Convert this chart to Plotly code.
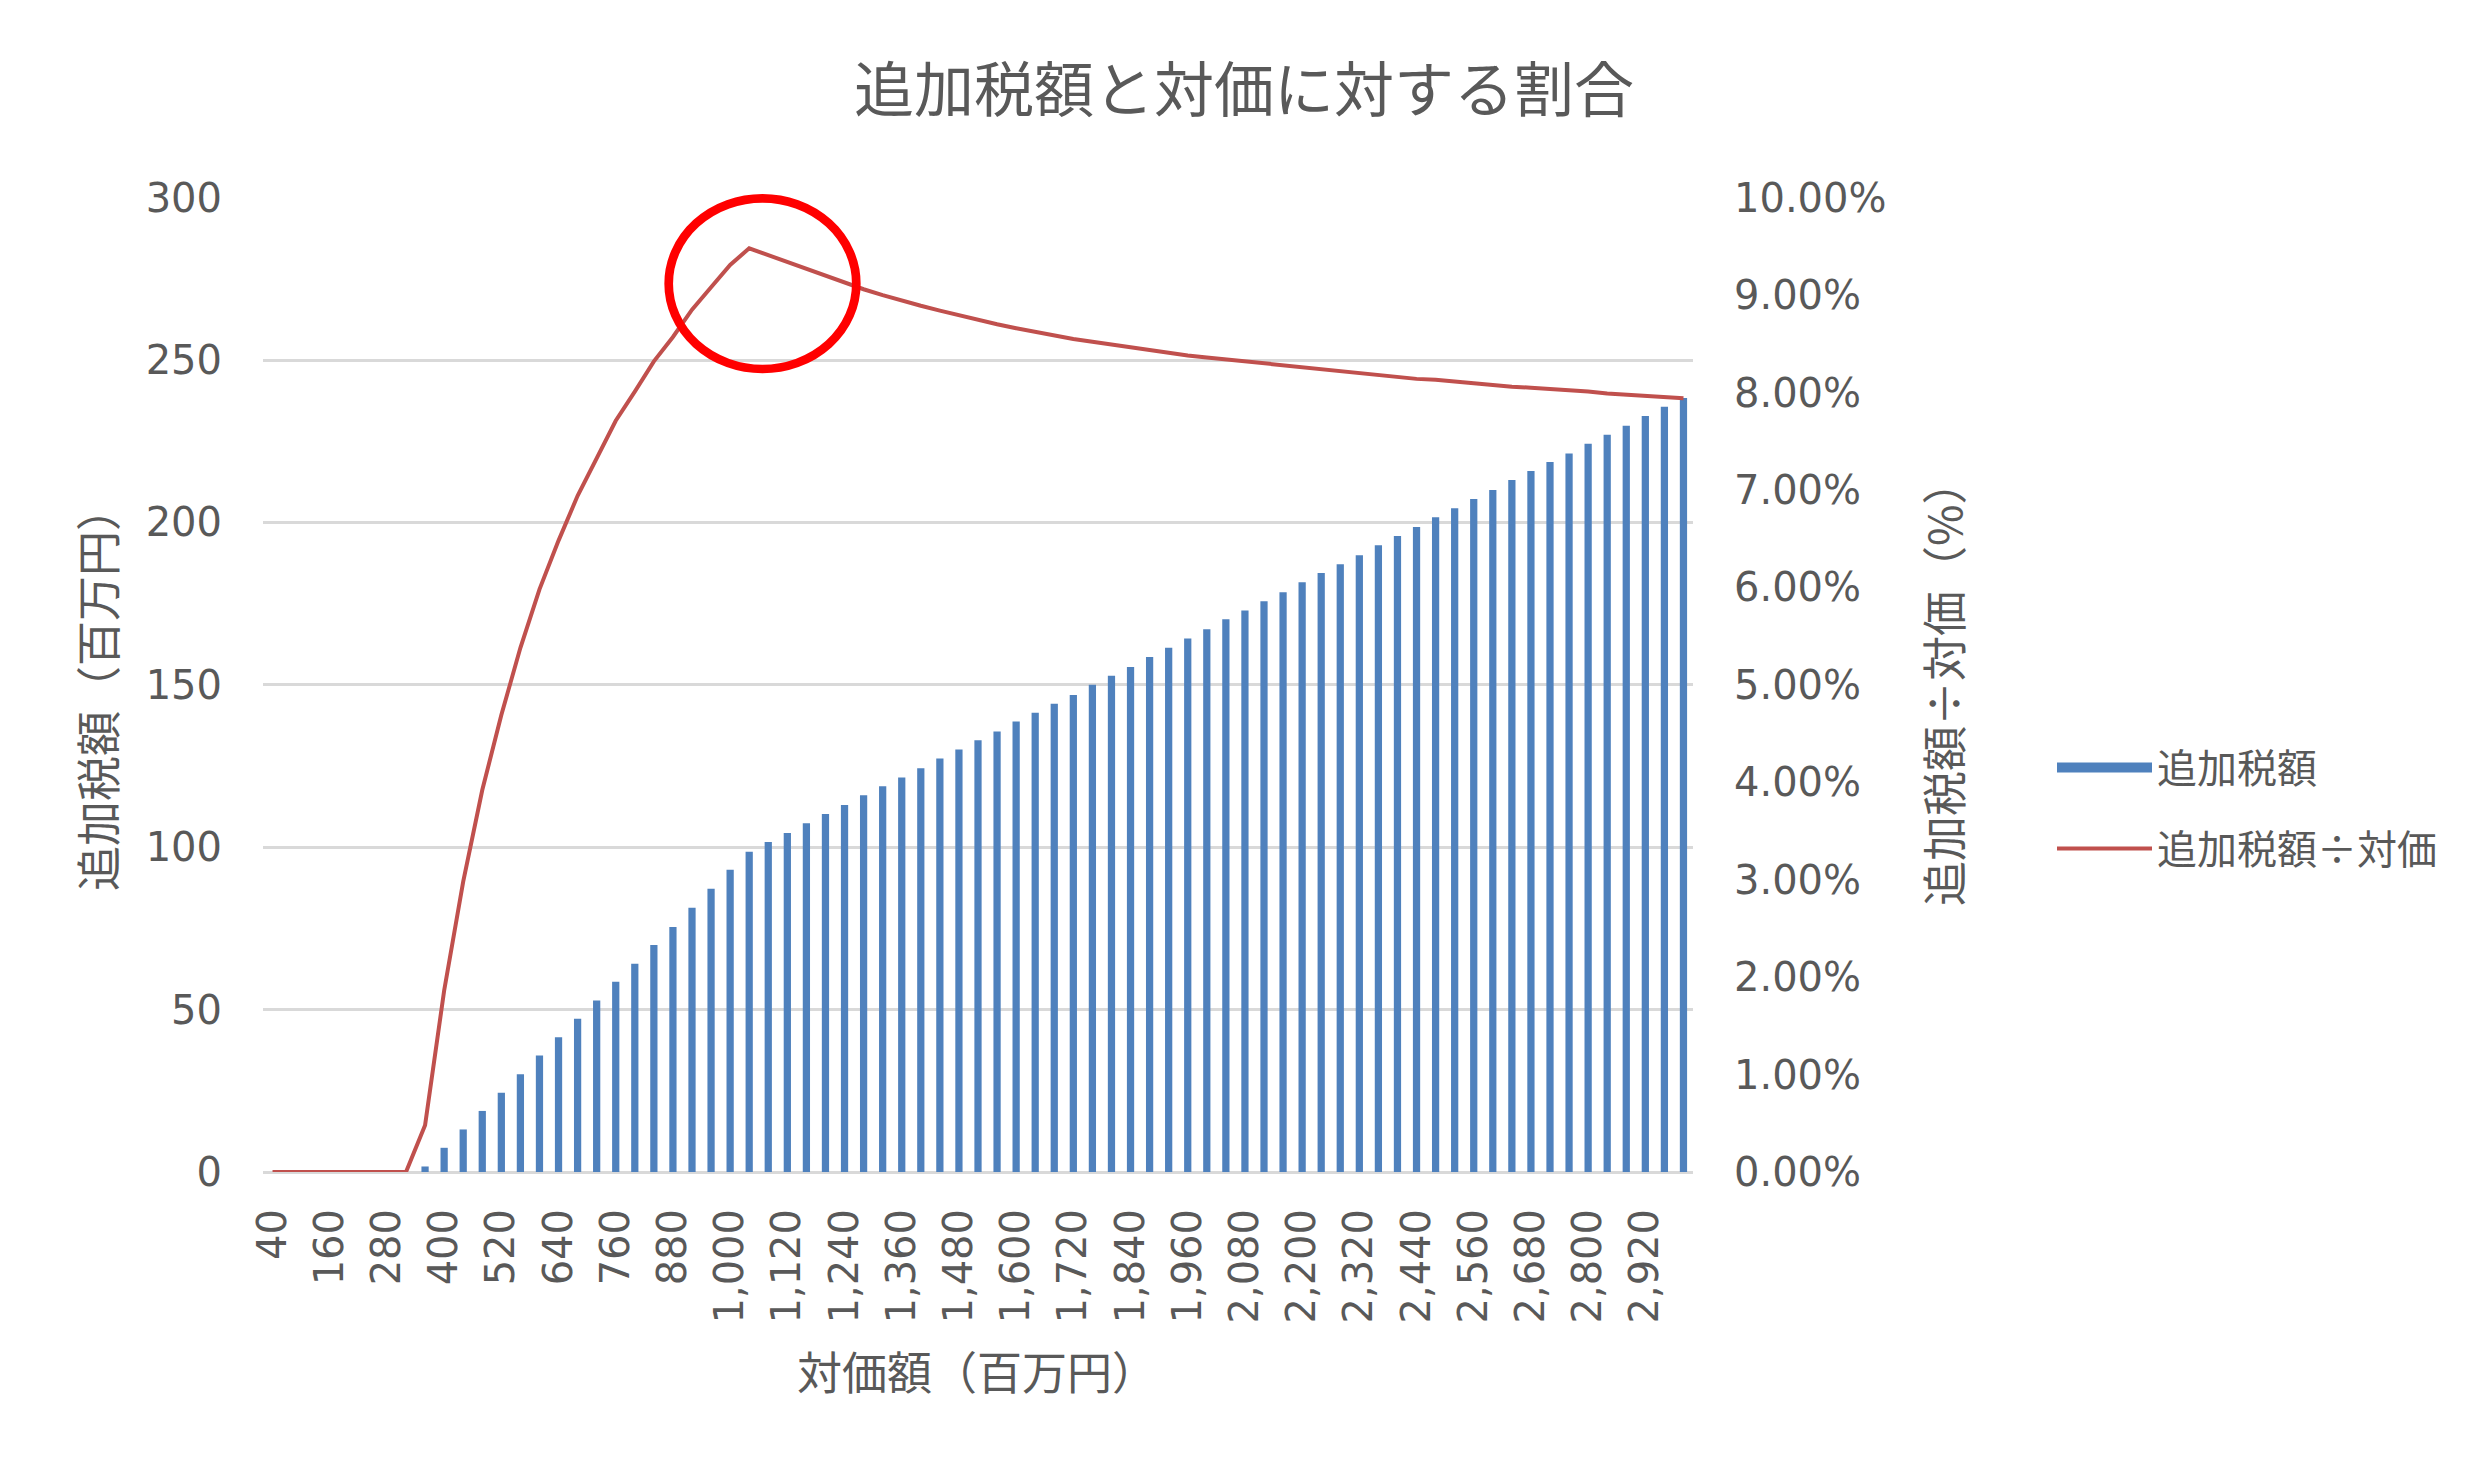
import plotly.graph_objects as go

# ---- data ----
price = [40, 80, 120, 160, 200, 240, 280, 320, 360, 400, 440, 480, 520, 560, 600, 640, 680, 720,
         760, 800, 840, 880, 920, 960, 1000, 1040, 1080, 1120, 1160, 1200, 1240, 1280, 1320, 1360,
         1400, 1440, 1480, 1520, 1560, 1600, 1640, 1680, 1720, 1760, 1800, 1840, 1880, 1920, 1960,
         2000, 2040, 2080, 2120, 2160, 2200, 2240, 2280, 2320, 2360, 2400, 2440, 2480, 2520, 2560,
         2600, 2640, 2680, 2720, 2760, 2800, 2840, 2880, 2920, 2960, 3000]
categories = [f"{p:,}" for p in price]

tax = [0, 0, 0, 0, 0, 0, 0, 0, 1.7, 7.45, 13.1, 18.8, 24.4, 30.1, 35.9, 41.5, 47.2, 52.8,
       58.6, 64.1, 69.9, 75.4, 81.4, 87.2, 93.1, 98.6, 101.6, 104.4, 107.4, 110.2, 113.0, 116.0,
       118.8, 121.5, 124.3, 127.3, 130.1, 132.9, 135.6, 138.7, 141.4, 144.2, 146.9, 150.0, 152.8,
       155.5, 158.6, 161.4, 164.3, 167.1, 170.2, 172.9, 175.7, 178.5, 181.6, 184.4, 187.1, 189.9,
       193.0, 195.8, 198.6, 201.6, 204.4, 207.2, 210.0, 213.1, 215.8, 218.6, 221.2, 224.2, 227.0,
       229.8, 232.8, 235.6, 238.3]

ratio_pct = [0, 0, 0, 0, 0, 0, 0, 0, 0.48, 1.86, 2.98, 3.92, 4.69, 5.38, 5.98, 6.48, 6.94, 7.33,
             7.71, 8.01, 8.32, 8.57, 8.85, 9.08, 9.31, 9.48, 9.41, 9.34, 9.26, 9.19, 9.12, 9.06,
             9.00, 8.94, 8.89, 8.84, 8.79, 8.75, 8.70, 8.66, 8.62, 8.58, 8.55, 8.52, 8.49, 8.46,
             8.43, 8.41, 8.38, 8.36, 8.34, 8.31, 8.29, 8.27, 8.25, 8.23, 8.21, 8.19, 8.18, 8.16,
             8.14, 8.13, 8.11, 8.09, 8.08, 8.06, 8.05, 8.04, 8.02, 8.01, 7.99, 7.98, 7.97, 7.96, 7.94]
ratio = [r / 100 for r in ratio_pct]

tick_labels = categories[::3]

bar_name = "追加税額"
line_name = "追加税額÷対価"
title_text = "追加税額と対価に対する割合"
y_title = "追加税額（百万円）"
y2_title = "追加税額÷対価（%）"
x_title = "対価額（百万円）"

# ---- style ----
BLUE = "#4F81BD"
RED = "#C0504D"
TXT = "#595959"
GRID = "#D9D9D9"
NUM_FONT = "DejaVu Sans, Noto Sans CJK JP"
JP_FONT = "Noto Sans CJK JP, DejaVu Sans"

W, H = 2485, 1466
L, R, T, B = 263, 1693, 197, 1172
PW, PH = R - L, B - T


def px(xp):
    return (xp - L) / PW


def py(yp):
    return (B - yp) / PH


fig = go.Figure()
fig.add_trace(go.Bar(x=categories, y=tax, name=bar_name, marker=dict(color=BLUE, line=dict(width=0)),
                     showlegend=False, yaxis="y"))
fig.add_trace(go.Scatter(x=categories, y=ratio, name=line_name, mode="lines",
                         line=dict(color=RED, width=4), showlegend=False, yaxis="y2"))
# legend entries
fig.add_trace(go.Scatter(x=[None], y=[None], mode="lines", name=bar_name, legendgroup="a",
                         line=dict(color=BLUE, width=22), yaxis="y"))
fig.add_trace(go.Scatter(x=[None], y=[None], mode="lines", name=line_name, legendgroup="b",
                         line=dict(color=RED, width=4), yaxis="y2"))

fig.update_layout(
    width=W, height=H,
    margin=dict(l=L, r=W - R, t=T, b=H - B, autoexpand=False),
    paper_bgcolor="white", plot_bgcolor="white",
    bargap=0.62,
    title=dict(text=title_text, x=1244 / W, xref="container", xanchor="center",
               y=1 - 91 / H, yref="container", yanchor="middle",
               font=dict(family=JP_FONT, size=60, color=TXT)),
    xaxis=dict(type="category", tickmode="array", tickvals=tick_labels, ticktext=tick_labels,
               tickangle=-90, ticks="", showgrid=False, showline=False, zeroline=False,
               ticklabelstandoff=28,
               tickfont=dict(family=NUM_FONT, size=40, color=TXT)),
    yaxis=dict(range=[0, 300.2], dtick=50, tick0=0, showgrid=True, gridcolor=GRID, gridwidth=2.5,
               zeroline=True, zerolinecolor=GRID, zerolinewidth=2.5, ticks="", showline=False,
               ticklabelstandoff=40,
               tickfont=dict(family=NUM_FONT, size=40, color=TXT)),
    yaxis2=dict(range=[0, 0.1000667], dtick=0.01, tick0=0, tickformat=".2%", overlaying="y",
                side="right", showgrid=False, zeroline=False, ticks="", showline=False,
                ticklabelstandoff=40,
                tickfont=dict(family=NUM_FONT, size=40, color=TXT)),
    legend=dict(x=px(2052), y=py(808), xanchor="left", yanchor="middle",
                traceorder="grouped", tracegroupgap=26, itemwidth=95,
                font=dict(family=JP_FONT, size=40, color=TXT), bgcolor="rgba(0,0,0,0)"),
    annotations=[
        dict(text=y_title, x=px(96), y=py(689), xref="paper", yref="paper", showarrow=False,
             textangle=-90, xanchor="center", yanchor="middle",
             font=dict(family=JP_FONT, size=45, color=TXT)),
        dict(text=y2_title, x=px(1942), y=py(683), xref="paper", yref="paper", showarrow=False,
             textangle=-90, xanchor="center", yanchor="middle",
             font=dict(family=JP_FONT, size=45, color=TXT)),
        dict(text=x_title, x=px(977), y=py(1370), xref="paper", yref="paper", showarrow=False,
             xanchor="center", yanchor="middle",
             font=dict(family=JP_FONT, size=45, color=TXT)),
    ],
    shapes=[
        dict(type="circle", xref="paper", yref="paper",
             x0=px(668.7), x1=px(856.3), y0=py(369), y1=py(198.3),
             line=dict(color="#FF0000", width=8.7), fillcolor="rgba(0,0,0,0)", layer="above"),
    ],
)

fig.write_html("out.html", config={"displayModeBar": False},
               post_script="document.body.style.margin='0';")
